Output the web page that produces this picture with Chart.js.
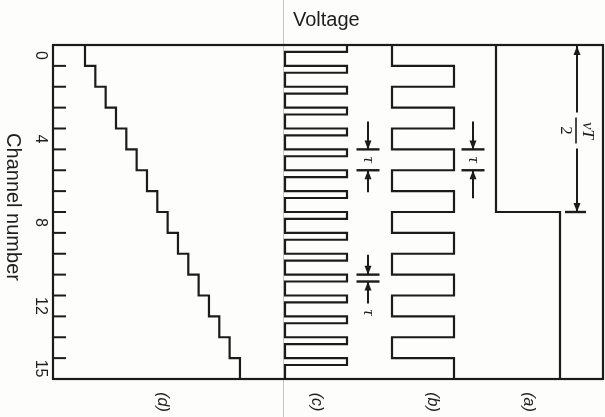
<!DOCTYPE html>
<html lang="en">
<head>
<meta charset="utf-8">
<title>Channel voltage waveforms</title>
<script src="https://cdn.jsdelivr.net/npm/chart.js@4.4.1/dist/chart.umd.min.js"></script>
<style>
  html, body { margin: 0; padding: 0; background: #fdfdfb; }
  #chart { display: block; }
</style>
</head>
<body>
<canvas id="chart" width="605" height="417"></canvas>
<script>
// channel number = time, drawn downwards
const channels = [0, 1, 2, 3, 4, 5, 6, 7, 8, 9, 10, 11, 12, 13, 14, 15];
const tickChannels = [0, 4, 8, 12, 15];
const tickLabels = ['0', '4', '8', '12', '15'];

// (a) slow square wave, half period vT/2 = 8 channels
const aLevels = [0, 0, 0, 0, 0, 0, 0, 0, 1, 1, 1, 1, 1, 1, 1, 1];
// (b) square wave, one channel per half period
const bLevels = [0, 1, 0, 1, 0, 1, 0, 1, 0, 1, 0, 1, 0, 1, 0, 1];
// (c) short pulse at the start of each channel
const cLevels = [1, 1, 1, 1, 1, 1, 1, 1, 1, 1, 1, 1, 1, 1, 1, 1];
const cPulseWidth = 0.33; // tau', in channels
// (d) staircase, one step per channel
const dLevels = [0, 1, 2, 3, 4, 5, 6, 7, 8, 9, 10, 11, 12, 13, 14, 15];

// where each trace sits on the voltage axis (layout only)
const panels = {
    a: { base: 44.3, amp: 6.4 },
    b: { base: 33.9, amp: 6.2 },
    c: { base: 23.2, amp: 6.2 },
    d: { base: 3.2, amp: 1.033 }
};

const INK = '#1b1b1b';

function stepPoints(levels, p) {
    const pts = [];
    channels.forEach((ch, i) => {
        const x = p.base + levels[i] * p.amp;
        pts.push({ x: x, y: ch }, { x: x, y: ch + 1 });
    });
    return pts;
}

function pulsePoints(levels, width, p) {
    const pts = [];
    channels.forEach((ch, i) => {
        const hi = p.base + levels[i] * p.amp;
        pts.push({ x: hi, y: ch }, { x: hi, y: ch + width },
                 { x: p.base, y: ch + width }, { x: p.base, y: ch + 1 });
    });
    return pts;
}

function trace(data) {
    return {
        data: data,
        showLine: true,
        borderColor: INK,
        borderWidth: 2.2,
        pointRadius: 0,
        fill: false,
        tension: 0
    };
}

function vArrow(ctx, x, y0, y1) {
    // line from y0 to y1 with the head at y1
    ctx.beginPath();
    ctx.moveTo(x, y0);
    ctx.lineTo(x, y1);
    ctx.stroke();
    const dir = Math.sign(y1 - y0);
    ctx.beginPath();
    ctx.moveTo(x, y1);
    ctx.lineTo(x - 3.5, y1 - dir * 9);
    ctx.lineTo(x + 3.5, y1 - dir * 9);
    ctx.closePath();
    ctx.fill();
}

function hBar(ctx, x0, x1, y) {
    ctx.beginPath();
    ctx.moveTo(x0, y);
    ctx.lineTo(x1, y);
    ctx.stroke();
}

function rotText(ctx, text, x, y, font) {
    ctx.save();
    ctx.translate(x, y);
    ctx.rotate(Math.PI / 2);
    ctx.font = font;
    ctx.textAlign = 'center';
    ctx.textBaseline = 'middle';
    ctx.fillText(text, 0, 0);
    ctx.restore();
}

// tau marker: two bars at channel values y0 / y1 with arrows pointing in
function tauMarker(ctx, xs, ys, xv, y0, y1, lenA, lenB, labelY) {
    const x = xs.getPixelForValue(xv);
    const p0 = ys.getPixelForValue(y0);
    const p1 = ys.getPixelForValue(y1);
    ctx.lineWidth = 2;
    vArrow(ctx, x, p0 - lenA, p0);
    vArrow(ctx, x, p1 + lenB, p1);
    ctx.lineWidth = 2.4;
    hBar(ctx, x - 11.5, x + 11.5, p0);
    hBar(ctx, x - 11.5, x + 11.5, p1);
    rotText(ctx, '\u03c4', x, labelY === undefined ? (p0 + p1) / 2 : labelY(p1),
            'italic 17px "Liberation Serif"');
}

const decor = {
    id: 'decor',
    beforeDraw(chart) {
        const ctx = chart.ctx;
        const xs = chart.scales.x;
        ctx.save();
        ctx.fillStyle = '#fdfdfb';
        ctx.fillRect(0, 0, chart.width, chart.height);
        // faint fold line of the scanned page
        const fx = Math.round(xs.getPixelForValue(panels.c.base)) - 1.5;
        ctx.strokeStyle = '#c6c6c6';
        ctx.lineWidth = 1;
        ctx.beginPath();
        ctx.moveTo(fx, 0);
        ctx.lineTo(fx, chart.height);
        ctx.stroke();
        ctx.restore();
    },
    afterDatasetsDraw(chart) {
        const ctx = chart.ctx;
        const area = chart.chartArea;
        const xs = chart.scales.x;
        const ys = chart.scales.y;
        ctx.save();
        ctx.strokeStyle = INK;
        ctx.fillStyle = INK;
        ctx.lineCap = 'butt';

        // frame
        ctx.lineWidth = 2.2;
        ctx.strokeRect(area.left, area.top, area.right - area.left, area.bottom - area.top);

        // channel ticks, pointing inwards
        ctx.lineWidth = 2;
        channels.slice(1).forEach(ch => {
            const y = ys.getPixelForValue(ch);
            hBar(ctx, area.left, area.left + 13, y);
        });

        // channel labels
        ctx.fillStyle = '#1e1e1e';
        tickChannels.forEach((ch, i) => {
            rotText(ctx, tickLabels[i], area.left - 13, ys.getPixelForValue(ch + 0.5),
                    '16px "Liberation Sans"');
        });
        rotText(ctx, 'Channel number', 13, (area.top + area.bottom) / 2 - 5,
                '20px "Liberation Sans"');

        // Voltage title
        ctx.font = '20px "Liberation Sans"';
        ctx.textAlign = 'left';
        ctx.textBaseline = 'alphabetic';
        ctx.fillText('Voltage', xs.getPixelForValue(panels.c.base) + 8, 26);

        // trace labels under the frame
        const traceLabels = [['(d)', panels.d, 15], ['(c)', panels.c, 1],
                             ['(b)', panels.b, 1.3], ['(a)', panels.a, 1]];
        traceLabels.forEach(([txt, p, span]) => {
            const cx = xs.getPixelForValue(p.base + p.amp * span / 2);
            rotText(ctx, txt, cx, area.bottom + 23, 'italic 16px "Liberation Sans"');
        });

        // tau markers
        ctx.fillStyle = INK;
        tauMarker(ctx, xs, ys, 31.5, 5, 6, 28, 22);
        tauMarker(ctx, xs, ys, 42.0, 5, 6, 28, 28);
        tauMarker(ctx, xs, ys, 31.5, 11, 11 + cPulseWidth, 20, 22, p1 => p1 + 31);

        // vT/2 dimension for trace (a)
        const dx = xs.getPixelForValue(52.4);
        const yTop = ys.getPixelForValue(0);
        const yHalf = ys.getPixelForValue(8);
        const yMid = (yTop + yHalf) / 2 + 2;
        ctx.lineWidth = 2;
        vArrow(ctx, dx, yMid - 18, yTop + 1);
        vArrow(ctx, dx, yMid + 18, yHalf);
        ctx.lineWidth = 2.4;
        hBar(ctx, dx - 12, dx + 9, yHalf);
        ctx.save();
        ctx.translate(dx - 1, yMid);
        ctx.rotate(Math.PI / 2);
        ctx.lineWidth = 1.6;
        hBar(ctx, -13, 13, 0);
        ctx.textAlign = 'center';
        ctx.textBaseline = 'middle';
        ctx.font = 'italic 17px "Liberation Serif"';
        ctx.fillText('\u03bdT', 0, -11);
        ctx.font = '17px "Liberation Serif"';
        ctx.fillText('2', 0, 11);
        ctx.restore();

        ctx.restore();
    }
};

document.addEventListener('DOMContentLoaded', () => {
    const canvas = document.getElementById('chart');

    new Chart(canvas, {
        type: 'scatter',
        data: {
            datasets: [
                trace(stepPoints(dLevels, panels.d)),
                trace(pulsePoints(cLevels, cPulseWidth, panels.c)),
                trace(stepPoints(bLevels, panels.b)),
                trace(stepPoints(aLevels, panels.a))
            ]
        },
        options: {
            responsive: false,
            devicePixelRatio: 1,
            animation: false,
            layout: { padding: { left: 53, top: 45, right: 2, bottom: 38 } },
            plugins: {
                legend: { display: false },
                tooltip: { enabled: false }
            },
            scales: {
                x: { type: 'linear', min: 0, max: 55, display: false },
                y: { type: 'linear', min: 0, max: 16, reverse: true, display: false }
            }
        },
        plugins: [decor]
    });
});
</script>
</body>
</html>
